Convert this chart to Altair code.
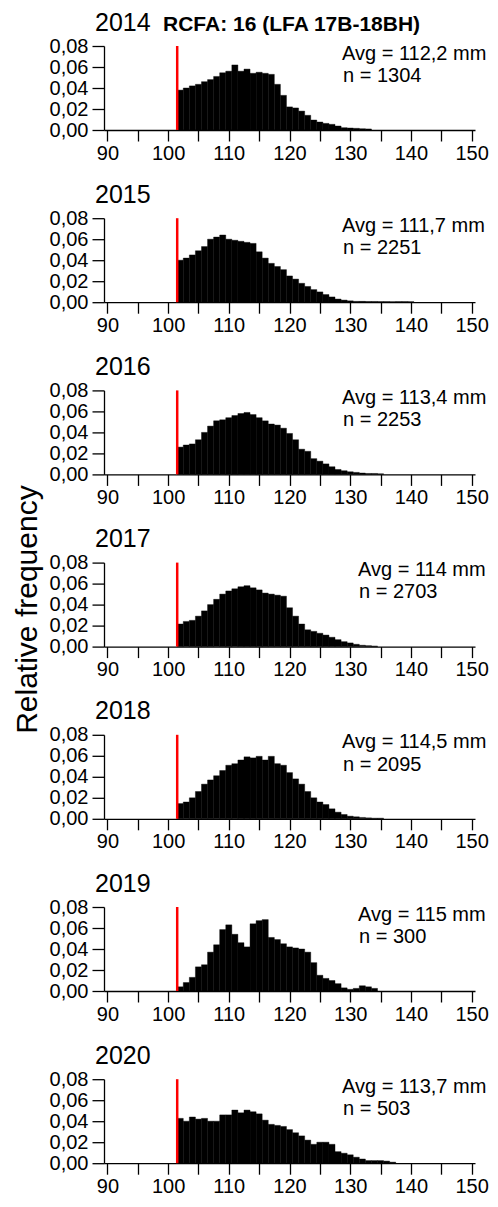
import altair as alt
import pandas as pd

# ---------------- data ----------------
years = ["2014", "2015", "2016", "2017", "2018", "2019", "2020"]
avg_labels = ["Avg = 112,2 mm", "Avg = 111,7 mm", "Avg = 113,4 mm", "Avg = 114 mm",
              "Avg = 114,5 mm", "Avg = 115 mm", "Avg = 113,7 mm"]
n_labels = ["n = 1304", "n = 2251", "n = 2253", "n = 2703", "n = 2095", "n = 300", "n = 503"]
subtitle = "RCFA: 16 (LFA 17B-18BH)"
y_title = "Relative frequency"
legal_size = 101.5
first_bin = 102  # centre of first 1-mm bin

freq_2014 = [0.038, 0.040, 0.042, 0.0435, 0.046, 0.048, 0.051, 0.0545, 0.056, 0.062,
             0.056, 0.058, 0.054, 0.055, 0.054, 0.053, 0.0435, 0.033, 0.022, 0.021,
             0.018, 0.014, 0.0095, 0.0076, 0.0063, 0.0054, 0.0038, 0.0022, 0.0019, 0.0016,
             0.0013, 0.0010]
freq_2015 = [0.040, 0.042, 0.045, 0.049, 0.053, 0.060, 0.062, 0.064, 0.060, 0.059,
             0.058, 0.057, 0.056, 0.048, 0.042, 0.037, 0.034, 0.031, 0.025, 0.022,
             0.018, 0.015, 0.012, 0.0098, 0.0073, 0.005, 0.003, 0.002, 0.0013, 0.0008,
             0.0008, 0.0007, 0.0007, 0.0006, 0.0006, 0.0005, 0.0006, 0.0006, 0.0005]
freq_2016 = [0.026, 0.028, 0.029, 0.033, 0.040, 0.046, 0.051, 0.052, 0.054, 0.056,
             0.058, 0.059, 0.057, 0.054, 0.051, 0.048, 0.047, 0.044, 0.039, 0.033,
             0.024, 0.022, 0.015, 0.0126, 0.010, 0.0073, 0.0047, 0.0035, 0.0025, 0.0019,
             0.0013, 0.0009, 0.0009, 0.0006]
freq_2017 = [0.0215, 0.024, 0.025, 0.029, 0.034, 0.040, 0.045, 0.050, 0.053, 0.055,
             0.057, 0.058, 0.056, 0.054, 0.051, 0.050, 0.049, 0.048, 0.037, 0.029,
             0.0215, 0.016, 0.0145, 0.0127, 0.011, 0.0089, 0.0066, 0.0047, 0.0035, 0.0022,
             0.0013, 0.0009, 0.0006]
freq_2018 = [0.0145, 0.016, 0.020, 0.026, 0.033, 0.037, 0.041, 0.046, 0.051, 0.0525,
             0.056, 0.059, 0.058, 0.0595, 0.056, 0.0595, 0.0525, 0.051, 0.044, 0.038,
             0.033, 0.026, 0.020, 0.016, 0.0136, 0.0095, 0.0063, 0.0041, 0.0025, 0.0019,
             0.0013, 0.0009, 0.0006, 0.0006]
freq_2019 = [0.004, 0.008, 0.013, 0.023, 0.025, 0.037, 0.044, 0.0585, 0.063, 0.054,
             0.046, 0.042, 0.064, 0.067, 0.068, 0.051, 0.049, 0.045, 0.042, 0.041,
             0.040, 0.037, 0.027, 0.015, 0.012, 0.010, 0.007, 0.003, 0.0016, 0.0025,
             0.005, 0.004, 0.0025]
freq_2020 = [0.0427, 0.040, 0.044, 0.042, 0.0427, 0.040, 0.040, 0.046, 0.046, 0.0506,
             0.048, 0.0506, 0.049, 0.047, 0.041, 0.037, 0.036, 0.035, 0.032, 0.029,
             0.026, 0.022, 0.018, 0.020, 0.020, 0.018, 0.011, 0.0095, 0.008, 0.0057,
             0.004, 0.0025, 0.0025, 0.0025, 0.002, 0.001]

freqs = [freq_2014, freq_2015, freq_2016, freq_2017, freq_2018, freq_2019, freq_2020]

# ---------------- layout ----------------
PLOT_W, PLOT_H = 371, 84
FONT = "Liberation Sans"
text_left = [238, 238, 238, 254, 238, 254, 238]

x_scale = alt.Scale(domain=[89.44, 150.56], nice=False, zero=False)
y_scale = alt.Scale(domain=[0, 0.08], nice=False)

x_axis = alt.Axis(values=list(range(90, 151, 5)),
                  labelExpr="datum.value % 10 == 0 ? format(datum.value, 'd') : ''",
                  title=None, grid=False, labelFlush=False, labelOverlap=False,
                  tickSize=11, labelPadding=18, labelBaseline="alphabetic")
y_axis = alt.Axis(values=[0, 0.02, 0.04, 0.06, 0.08],
                  labelExpr="replace(format(datum.value, '.2f'), '.', ',')",
                  title=None, grid=False, tickSize=12, labelPadding=4,
                  labelOverlap=False, labelFlush=False)


def panel(i):
    f = freqs[i]
    df = pd.DataFrame({
        "start": [first_bin + k - 0.5 for k in range(len(f))],
        "end": [first_bin + k + 0.5 for k in range(len(f))],
        "freq": f,
        "zero": [0.0] * len(f),
    })
    bars = alt.Chart(df).mark_bar(color="black", stroke="black", strokeWidth=0.4).encode(
        x=alt.X("start:Q", scale=x_scale, axis=x_axis),
        x2="end:Q",
        y=alt.Y("freq:Q", scale=y_scale, axis=y_axis),
        y2="zero:Q",
    )
    rule_df = pd.DataFrame({"start": [legal_size], "freq": [0.0], "top": [0.08]})
    rule = alt.Chart(rule_df).mark_rule(color="#ff0000", strokeWidth=2.5).encode(
        x=alt.X("start:Q", scale=x_scale, axis=x_axis),
        y=alt.Y("freq:Q", scale=y_scale, axis=y_axis), y2="top:Q")
    lab_df = pd.DataFrame({"a": [avg_labels[i]], "n": [n_labels[i]], "yr": [years[i]]})
    base = alt.Chart(lab_df)
    avg_t = base.mark_text(align="left", baseline="alphabetic", font=FONT, fontSize=20,
                           color="black").encode(
        x=alt.value(text_left[i]), y=alt.value(13.5), text="a:N")
    n_t = base.mark_text(align="left", baseline="alphabetic", font=FONT, fontSize=20,
                         color="black").encode(
        x=alt.value(text_left[i] + 1), y=alt.value(35.7), text="n:N")
    yr_t = base.mark_text(align="left", baseline="alphabetic", font=FONT, fontSize=25,
                          color="black").encode(
        x=alt.value(-9), y=alt.value(-15.5), text="yr:N")
    layers = [bars, rule, avg_t, n_t, yr_t]
    if i == 0:
        sub_t = alt.Chart(pd.DataFrame({"s": [subtitle]})).mark_text(
            align="left", baseline="alphabetic", font=FONT, fontSize=21, fontWeight="bold",
            color="black").encode(x=alt.value(59), y=alt.value(-15.5), text="s:N")
        layers.append(sub_t)
    if i == 3:
        yt = alt.Chart(pd.DataFrame({"t": [y_title]})).mark_text(
            align="center", baseline="alphabetic", font=FONT, fontSize=30, angle=270,
            color="black").encode(x=alt.value(-67.5), y=alt.value(47), text="t:N")
        layers.append(yt)
    return alt.layer(*layers).properties(width=PLOT_W, height=PLOT_H)


chart = alt.vconcat(*[panel(i) for i in range(len(years))], spacing=88.2, bounds="flush").properties(
    padding={"left": 4, "top": 2, "right": 0, "bottom": 0}
).configure_view(stroke=None).configure_axis(
    domainColor="black", domainWidth=1.3, tickColor="black", tickWidth=1.3,
    labelFont=FONT, labelFontSize=20, labelColor="black",
)

chart.save("out.html", embed_options={"renderer": "svg", "actions": False})
